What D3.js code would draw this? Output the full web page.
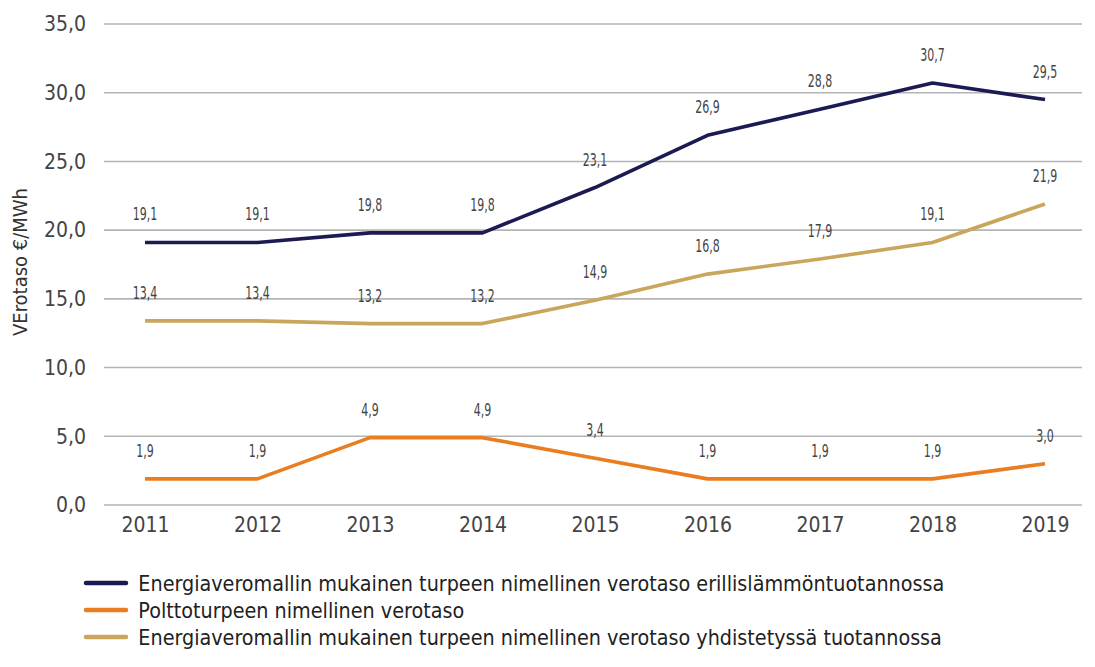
<!DOCTYPE html>
<html>
<head>
<meta charset="utf-8">
<script src="https://cdn.jsdelivr.net/npm/d3@7"></script>
<style>
  body { margin: 0; background: #fff; }
  svg text { font-family: "DejaVu Sans Condensed", "Liberation Sans Narrow", "Roboto", sans-serif; }
</style>
</head>
<body>
<div id="chart"></div>
<script>
// data
var years = ["2011", "2012", "2013", "2014", "2015", "2016", "2017", "2018", "2019"];
var erillis = [19.1, 19.1, 19.8, 19.8, 23.1, 26.9, 28.8, 30.7, 29.5];
var poltto = [1.9, 1.9, 4.9, 4.9, 3.4, 1.9, 1.9, 1.9, 3.0];
var yhdistetty = [13.4, 13.4, 13.2, 13.2, 14.9, 16.8, 17.9, 19.1, 21.9];
var yTicks = [0, 5, 10, 15, 20, 25, 30, 35];
var seriesNames = [
  "Energiaveromallin mukainen turpeen nimellinen verotaso erillislämmöntuotannossa",
  "Polttoturpeen nimellinen verotaso",
  "Energiaveromallin mukainen turpeen nimellinen verotaso yhdistetyssä tuotannossa"
];
var seriesColors = ["#1c1a52", "#e97d1f", "#c9a65b"];
var yTitle = "VErotaso €/MWh";

var series = [erillis, poltto, yhdistetty].map(function (vals, i) {
  return { name: seriesNames[i], color: seriesColors[i], values: vals };
});

var width = 1095, height = 667;
var gridLeft = 104, gridRight = 1082;

var svg = d3.select("#chart").append("svg")
  .attr("width", width)
  .attr("height", height);

var x = d3.scalePoint()
  .domain(years)
  .range([145, 1045]);

var y = d3.scaleLinear()
  .domain([0, 35])
  .range([505, 24]);

var fmt = function (v) { return d3.format(".1f")(v).replace(".", ","); };

// gridlines
svg.append("g")
  .selectAll("line")
  .data(yTicks)
  .enter()
  .append("line")
  .attr("x1", gridLeft)
  .attr("x2", gridRight)
  .attr("y1", function (d) { return y(d); })
  .attr("y2", function (d) { return y(d); })
  .attr("stroke", "#b4b4b4")
  .attr("stroke-width", 1.6);

// y axis labels
var yAxis = svg.append("g")
  .attr("transform", "translate(86,0)")
  .call(d3.axisLeft(y).tickValues(yTicks).tickSize(0).tickPadding(0).tickFormat(fmt));
yAxis.select(".domain").remove();
yAxis.selectAll("text")
  .attr("font-size", 21)
  .attr("fill", "#444")
  .attr("font-family", "'DejaVu Sans Condensed', sans-serif");

// x axis labels
var xAxis = svg.append("g")
  .attr("transform", "translate(0,511)")
  .call(d3.axisBottom(x).tickSize(0).tickPadding(0));
xAxis.select(".domain").remove();
xAxis.selectAll("text")
  .attr("dy", "1em")
  .attr("font-size", 21)
  .attr("fill", "#444")
  .attr("font-family", "'DejaVu Sans Condensed', sans-serif");

// y title
svg.append("text")
  .attr("transform", "translate(27,262) rotate(-90)")
  .attr("text-anchor", "middle")
  .attr("font-size", 20)
  .attr("fill", "#333")
  .text(yTitle);

var line = d3.line()
  .x(function (d, i) { return x(years[i]); })
  .y(function (d) { return y(d); });

svg.append("g")
  .selectAll("path")
  .data(series)
  .enter()
  .append("path")
  .attr("d", function (s) { return line(s.values); })
  .attr("fill", "none")
  .attr("stroke", function (s) { return s.color; })
  .attr("stroke-width", 3.6)
  .attr("stroke-linejoin", "round");

// data labels (narrow, like the original)
series.forEach(function (s) {
  svg.append("g")
    .selectAll("text")
    .data(s.values)
    .enter()
    .append("text")
    .attr("x", function (d, i) { return x(years[i]); })
    .attr("y", function (d) { return y(d) - 22; })
    .attr("text-anchor", "middle")
    .attr("font-size", 18)
    .attr("fill", "#444")
    .attr("transform", function (d, i) {
      var cx = x(years[i]);
      return "translate(" + cx + ",0) scale(0.68,1) translate(" + (-cx) + ",0)";
    })
    .text(fmt);
});

// legend
var legend = svg.append("g")
  .selectAll("g")
  .data(series)
  .enter()
  .append("g")
  .attr("transform", function (d, i) { return "translate(86," + (583 + i * 27) + ")"; });
legend.append("line")
  .attr("x1", 0)
  .attr("x2", 40)
  .attr("stroke", function (d) { return d.color; })
  .attr("stroke-width", 4.5)
  .attr("stroke-linecap", "round");
legend.append("text")
  .attr("x", 54)
  .attr("y", 8)
  .attr("font-size", 22)
  .attr("fill", "#222")
  .attr("transform", "scale(0.97,1)")
  .text(function (d) { return d.name; });
</script>
</body>
</html>
